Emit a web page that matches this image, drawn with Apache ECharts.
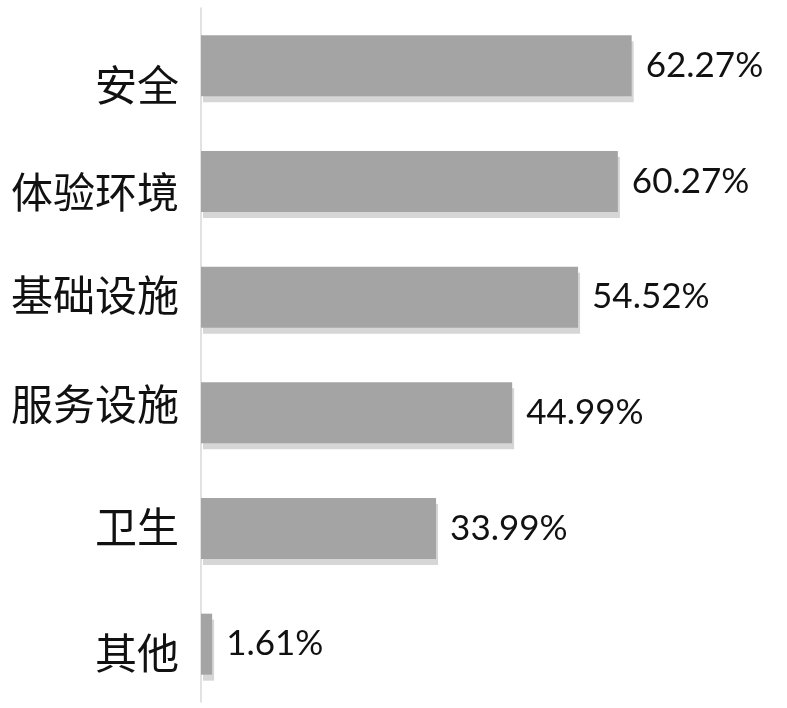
<!DOCTYPE html>
<html>
<head>
<meta charset="utf-8">
<script src="https://cdn.jsdelivr.net/npm/echarts@6/dist/echarts.min.js"></script>
<style>
html,body{margin:0;padding:0;background:#fff;}
#chart{width:787px;height:708px;}
</style>
</head>
<body>
<div id="chart"></div>
<script>
var categories = ['安全', '体验环境', '基础设施', '服务设施', '卫生', '其他'];
var values = [62.27, 60.27, 54.52, 44.99, 33.99, 1.61];

// vertical nudges of category labels (px, positive = down), as seen in the reference
var labelShift = [19, 11, -2, -9, -1, 9];
var rich = {};
labelShift.forEach(function (d, i) {
  rich['l' + i] = {
    fontSize: 42,
    fontFamily: 'Noto Sans CJK SC',
    color: '#111',
    padding: d >= 0 ? [2 * d, 0, 0, 0] : [0, 0, -2 * d, 0]
  };
});

var chart = echarts.init(document.getElementById('chart'));
chart.setOption({
  backgroundColor: '#ffffff',
  animation: false,
  grid: { left: 201, top: 8, width: 553.3, height: 694, containLabel: false },
  xAxis: {
    type: 'value', min: 0, max: 80, show: false
  },
  yAxis: {
    type: 'category',
    inverse: true,
    data: categories,
    axisLine: { show: true, lineStyle: { color: '#d9d9d9', width: 1.5 } },
    axisTick: { show: false },
    splitLine: { show: false },
    axisLabel: {
      margin: 22,
      color: '#111',
      fontSize: 42,
      fontFamily: 'Noto Sans CJK SC',
      formatter: function (v, i) { return '{l' + i + '|' + v + '}'; },
      rich: rich
    }
  },
  series: [{
    type: 'bar',
    data: values,
    barWidth: 61,
    itemStyle: {
      color: '#a4a4a4',
      shadowColor: '#d6d6d6',
      shadowOffsetY: 6,
      shadowOffsetX: 2,
      shadowBlur: 0
    },
    label: {
      show: true,
      position: 'right',
      distance: 14,
      color: '#111',
      fontSize: 35,
      fontFamily: 'Lato',
      padding: [6, 0, 0, 0],
      formatter: function (p) { return p.value.toFixed(2) + '%'; }
    }
  }]
});
</script>
</body>
</html>
